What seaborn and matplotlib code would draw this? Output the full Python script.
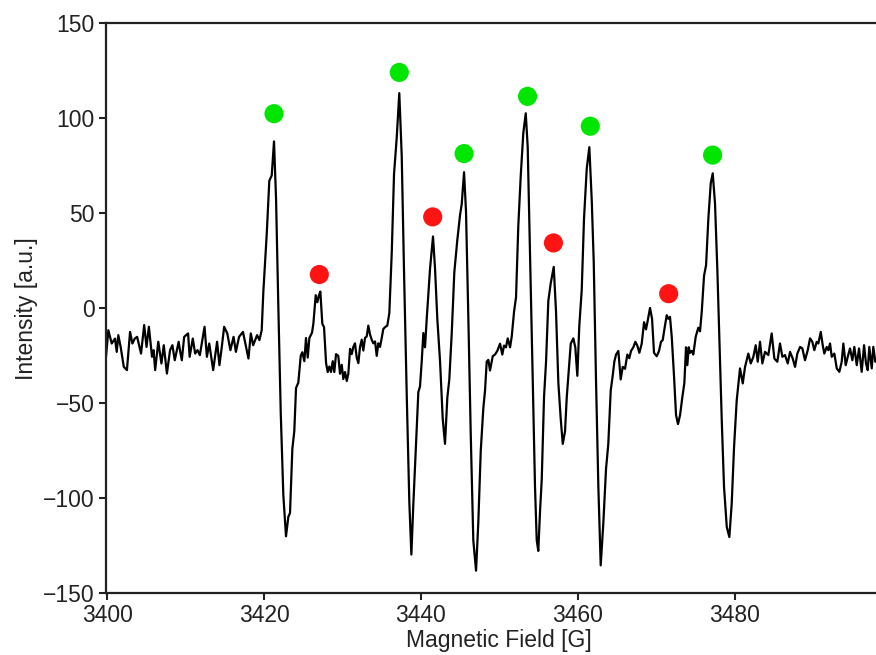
import numpy as np
import pandas as pd
import matplotlib
matplotlib.use("Agg")
import matplotlib.pyplot as plt
import seaborn as sns

field = [
    3399.83, 3400.13, 3400.56, 3400.98, 3401.20, 3401.40, 3401.70, 3402.10, 3402.50, 3402.90,
    3403.20, 3403.50, 3403.80, 3404.30, 3404.70, 3405.00, 3405.30, 3405.70, 3405.90, 3406.10,
    3406.50, 3406.90, 3407.20, 3407.60, 3408.00, 3408.30, 3408.60, 3409.10, 3409.30, 3409.50,
    3409.80, 3410.30, 3410.50, 3410.90, 3411.20, 3411.50, 3411.80, 3412.40, 3412.70, 3413.00,
    3413.50, 3414.00, 3414.30, 3414.60, 3414.90, 3415.30, 3415.70, 3416.10, 3416.40, 3416.80,
    3417.30, 3418.00, 3418.30, 3418.60, 3419.10, 3419.40, 3419.69,
    3419.90, 3420.33, 3420.66, 3420.97, 3421.26, 3421.52, 3421.81, 3422.12, 3422.45, 3422.79,
    3423.09, 3423.30, 3423.60, 3423.85, 3424.07, 3424.36, 3424.67, 3424.87, 3425.13, 3425.34,
    3425.56, 3425.77, 3426.11, 3426.28, 3426.58, 3426.79, 3427.00, 3427.17, 3427.42, 3427.64,
    3427.90, 3428.11, 3428.32, 3428.53, 3428.75, 3428.95, 3429.17, 3429.46, 3429.68, 3429.90,
    3430.10, 3430.32, 3430.54, 3430.74, 3430.96, 3431.17, 3431.38, 3431.59, 3431.81, 3432.02,
    3432.23, 3432.45, 3432.65, 3432.87, 3433.09, 3433.29, 3433.51, 3433.72, 3433.93, 3434.15,
    3434.36, 3434.57, 3434.78, 3435.00, 3435.20, 3435.42, 3435.71, 3435.97, 3436.28, 3436.57,
    3436.91, 3437.24, 3437.55, 3437.84, 3438.19, 3438.52, 3438.78, 3439.03, 3439.34, 3439.67,
    3439.88, 3440.10, 3440.31, 3440.52, 3440.74, 3441.16, 3441.54, 3441.80, 3442.09, 3442.44,
    3442.78, 3443.07, 3443.37, 3443.62, 3443.93, 3444.26, 3444.64, 3444.99, 3445.20, 3445.50,
    3445.75, 3446.05, 3446.35, 3446.68, 3447.03, 3447.32, 3447.63, 3447.96, 3448.18, 3448.39,
    3448.60, 3448.81, 3449.16, 3449.45, 3449.74, 3450.09, 3450.38, 3450.60, 3450.85, 3451.07,
    3451.37, 3451.58, 3451.88, 3452.13, 3452.42, 3452.73, 3453.06, 3453.37, 3453.62, 3453.92,
    3454.26, 3454.55, 3454.77, 3454.97, 3455.19, 3455.41, 3455.70, 3455.96, 3456.25, 3456.56,
    3456.94, 3457.23, 3457.53, 3457.83, 3458.09, 3458.38, 3458.60, 3458.80, 3459.11, 3459.44,
    3459.69, 3459.95, 3460.20, 3460.51, 3460.80, 3461.15, 3461.48, 3461.79, 3462.04, 3462.33,
    3462.63, 3462.93, 3463.27, 3463.61, 3463.90, 3464.21, 3464.46, 3464.67, 3464.89, 3465.18,
    3465.48, 3465.74, 3466.03, 3466.33, 3466.58, 3466.80, 3467.09, 3467.35, 3467.60, 3467.86,
    3468.16, 3468.46, 3468.71, 3468.93, 3469.22, 3469.48, 3469.73, 3470.08, 3470.37, 3470.62,
    3470.84, 3471.05, 3471.35, 3471.56, 3471.77, 3471.99, 3472.28, 3472.54, 3472.79, 3473.05,
    3473.34, 3473.60, 3473.81, 3473.98, 3474.16, 3474.32, 3474.54, 3474.74, 3475.05, 3475.38,
    3475.60, 3475.82, 3476.11, 3476.37, 3476.66, 3476.97, 3477.22, 3477.51, 3477.81, 3478.06,
    3478.37, 3478.66, 3479.01, 3479.34, 3479.64, 3479.94, 3480.28, 3480.70, 3481.05, 3481.34,
    3481.76, 3482.07, 3482.40, 3482.70, 3482.96, 3483.25, 3483.55, 3483.89, 3484.31, 3484.74,
    3485.08, 3485.46, 3485.80, 3486.10, 3486.44, 3486.79, 3487.08, 3487.42, 3487.72, 3488.01,
    3488.36, 3488.65, 3488.99, 3489.34, 3489.63, 3489.92, 3490.18, 3490.48, 3490.69, 3491.00,
    3491.25, 3491.45, 3491.76, 3491.97, 3492.18, 3492.40, 3492.73, 3493.04, 3493.37, 3493.67,
    3493.88, 3494.18, 3494.44, 3494.73, 3495.03, 3495.28, 3495.59, 3495.88, 3496.22, 3496.52,
    3496.77, 3496.99, 3497.19, 3497.50, 3497.70, 3497.96, 3498.30,
]

intensity = [
    -25.6, -11.6, -18.6, -16.0, -23.0, -14.2, -20.4, -30.9, -32.6, -12.5,
    -18.6, -16.0, -15.1, -23.9, -8.9, -20.4, -9.8, -25.6, -22.1, -32.6,
    -17.7, -29.1, -19.5, -34.4, -22.1, -19.5, -27.4, -17.7, -23.0, -27.4,
    -15.1, -13.3, -25.6, -16.0, -23.9, -22.1, -24.7, -9.8, -25.6, -18.6,
    -32.6, -17.7, -30.0, -20.4, -9.8, -13.3, -22.1, -15.1, -23.0, -15.1,
    -12.5, -26.5, -13.3, -19.5, -14.2, -16.8, -11.6,
    8.7, 38.8, 67.0, 69.8, 87.7, 57.6, 1.2, -55.2, -98.4, -120.0,
    -109.7, -107.8, -74.0, -64.6, -42.0, -39.2, -25.1, -23.2, -27.9, -15.7,
    -26.0, -15.7, -12.9, -8.2, 6.8, 3.1, 6.8, 8.7, -8.2, -10.0,
    -28.9, -33.6, -30.7, -33.6, -27.9, -33.6, -24.2, -25.1, -34.5, -29.8,
    -37.3, -33.6, -38.3, -34.5, -21.4, -24.2, -20.4, -18.5, -26.0, -28.9,
    -20.4, -16.6, -22.3, -15.7, -14.8, -9.2, -13.9, -16.6, -18.5, -17.5,
    -25.1, -18.5, -20.4, -15.7, -11.0, -10.0, -9.2, -2.6, 29.4, 70.7,
    89.5, 113.1, 80.2, 20.0, -45.8, -102.0, -129.6, -103.3, -75.1, -44.1,
    -41.3, -28.1, -13.1, -20.6, -5.6, 20.7, 37.7, 20.7, -5.6, -28.1,
    -58.2, -71.4, -46.9, -37.5, -13.1, 18.9, 35.8, 49.0, 54.6, 71.5,
    50.8, -5.6, -65.7, -122.1, -138.1, -112.7, -75.1, -52.6, -43.2, -28.1,
    -27.2, -32.8, -25.3, -24.4, -22.5, -18.7, -24.4, -19.7, -20.6, -15.9,
    -20.6, -15.0, -1.8, 5.7, 43.3, 69.6, 92.2, 102.5, 84.7, 28.3,
    -37.5, -93.9, -122.1, -127.7, -107.0, -90.1, -46.9, -28.1, 3.8, 13.2,
    21.7, -1.8, -39.4, -58.2, -71.4, -64.8, -46.9, -35.6, -18.7, -15.9,
    -20.6, -35.6, -9.3, 9.5, 47.0, 73.4, 84.7, 56.5, 24.5, -37.5,
    -93.9, -135.3, -112.7, -84.5, -71.4, -43.2, -35.6, -28.1, -24.4, -22.5,
    -37.5, -30.9, -31.9, -24.4, -26.3, -22.5, -20.6, -17.7, -19.7, -23.5,
    -18.7, -7.4, -11.2, -6.5, 0.1, -5.6, -23.5, -25.3, -22.5, -17.7,
    -16.8, -11.2, -3.7, -5.6, -4.6, -15.0, -35.6, -56.3, -61.0, -56.3,
    -46.9, -39.4, -20.6, -30.0, -20.6, -23.5, -22.5, -24.4, -15.0, -10.3,
    -12.2, -1.8, 17.0, 22.6, 47.0, 65.8, 70.9, 55.1, 20.0, -15.1,
    -58.9, -94.0, -115.1, -120.4, -102.8, -73.0, -48.4, -31.7, -39.6, -30.9,
    -23.9, -29.1, -25.6, -19.5, -28.2, -17.7, -29.1, -23.0, -24.7, -13.3,
    -26.5, -28.2, -18.6, -25.6, -24.7, -29.1, -23.0, -26.5, -30.9, -23.9,
    -20.4, -21.2, -27.4, -22.1, -15.9, -17.7, -22.1, -17.7, -18.6, -12.5,
    -19.5, -23.9, -20.4, -22.1, -18.6, -25.6, -23.9, -31.7, -33.5, -28.2,
    -18.6, -30.0, -25.6, -21.2, -27.4, -20.4, -30.0, -21.2, -33.5, -19.5,
    -29.1, -32.6, -20.4, -31.7, -20.4, -28.2, -26.0,
]

# marcadores das linhas (verde = principal, vermelho = satelite)
green_x = [3421.26, 3437.24, 3445.50, 3453.60, 3461.60, 3477.20]
green_y = [102.3, 124.0, 81.3, 111.4, 95.7, 80.5]
red_x = [3427.04, 3441.50, 3456.90, 3471.60]
red_y = [17.7, 48.0, 34.3, 7.6]

df = pd.DataFrame({"campo": field, "intensidade": intensity})
marcas = pd.DataFrame({
    "campo": green_x + red_x,
    "intensidade": green_y + red_y,
    "tipo": ["verde"] * len(green_x) + ["vermelho"] * len(red_x),
})

sns.set_theme(style="ticks")
plt.rcParams["font.family"] = ["Liberation Sans", "DejaVu Sans"]

fig = plt.figure(figsize=(8.76, 6.55), dpi=100)
ax = fig.add_axes([0.121, 0.0942, 0.8965, 0.8707])

sns.lineplot(data=df, x="campo", y="intensidade", color="black", linewidth=1.6,
             estimator=None, sort=False, ax=ax)
sns.scatterplot(data=marcas, x="campo", y="intensidade", hue="tipo",
                palette={"verde": "#00e600", "vermelho": "#ff1414"},
                s=190, edgecolor="none", legend=False, ax=ax, zorder=3)

ax.set_xlim(3399.83, 3500)
ax.set_ylim(-150, 150)
ax.set_xticks([3400, 3420, 3440, 3460, 3480])
ax.set_yticks([-150, -100, -50, 0, 50, 100, 150])

ax.set_xlabel("Magnetic Field [G]", fontsize=16.5, color="#222222", labelpad=1)
ax.set_ylabel("Intensity [a.u.]", fontsize=16.5, color="#222222", labelpad=4)
ax.tick_params(axis="both", labelsize=16.5, width=1.5, length=5, pad=3,
               direction="out", colors="#222222")
for lado in ["left", "bottom", "top", "right"]:
    ax.spines[lado].set_linewidth(1.6)
    ax.spines[lado].set_color("#222222")

fig.savefig("out.png", dpi=100)
